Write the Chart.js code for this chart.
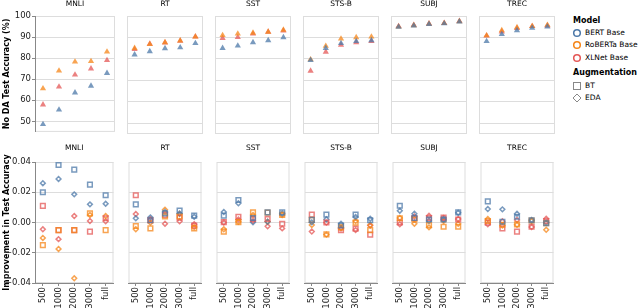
<html>
<head>
<title>DA results</title>
<style>
  body { margin: 0; background: #fff; }
  #wrap { position: relative; width: 640px; height: 308px; font-family: 'DejaVu Sans', sans-serif; }
  #wrap canvas { position: absolute; }
  .lg { position: absolute; font-size: 7.5px; color: #000; white-space: nowrap; line-height: 10px; }
  .lt { position: absolute; font-size: 8px; font-weight: bold; color: #000; white-space: nowrap; line-height: 10px; }
  .lg svg { position: absolute; left: -13px; top: 0; }
</style>
</head>
<body>
<div id="wrap">
  <div class="lt" style="left:573px;top:16px">Model</div>
  <div class="lg" style="left:585px;top:28px"><svg width="10" height="10"><circle cx="5" cy="5" r="3.3" fill="none" stroke="#4c78a8" stroke-width="1.5"/></svg>BERT Base</div>
  <div class="lg" style="left:585px;top:40px"><svg width="10" height="10"><circle cx="5" cy="5" r="3.3" fill="none" stroke="#f58518" stroke-width="1.5"/></svg>RoBERTa Base</div>
  <div class="lg" style="left:585px;top:52.5px"><svg width="10" height="10"><circle cx="5" cy="5" r="3.3" fill="none" stroke="#e45756" stroke-width="1.5"/></svg>XLNet Base</div>
  <div class="lt" style="left:573px;top:68px">Augmentation</div>
  <div class="lg" style="left:585px;top:80.5px"><svg width="10" height="10"><rect x="1.5" y="1.5" width="7" height="7" fill="none" stroke="#888" stroke-width="1"/></svg>BT</div>
  <div class="lg" style="left:585px;top:93px"><svg width="10" height="10"><path d="M5 1 L9 5 L5 9 L1 5 Z" fill="none" stroke="#888" stroke-width="1"/></svg>EDA</div>
</div>
</body>
</html>

<script src="https://cdn.jsdelivr.net/npm/chart.js"></script>
<script>
  var sizes = ['500', '1000', '2000', '3000', 'full'];
  var tasks = ['MNLI', 'RT', 'SST', 'STS-B', 'SUBJ', 'TREC'];

  // No DA test accuracy (%), one row per task
  var noDaBert = [
    [48.6, 55.5, 63.6, 66.8, 72.9],
    [82.0, 83.5, 84.9, 85.3, 87.3],
    [85.0, 86.1, 87.7, 88.6, 90.0],
    [79.4, 85.0, 87.3, 88.2, 88.6],
    [94.9, 95.5, 96.2, 96.5, 97.4],
    [88.2, 91.5, 93.3, 94.4, 95.0]
  ];
  var noDaRoberta = [
    [65.6, 74.0, 78.3, 78.5, 83.0],
    [85.0, 86.8, 87.7, 88.5, 90.3],
    [91.0, 91.7, 92.1, 92.6, 93.5],
    [79.7, 86.0, 89.4, 90.0, 90.3],
    [95.0, 95.6, 96.3, 96.6, 97.5],
    [90.9, 93.3, 94.7, 95.2, 95.8]
  ];
  var noDaXlnet = [
    [57.9, 66.4, 72.1, 75.0, 79.0],
    [84.5, 87.0, 87.6, 88.4, 90.4],
    [89.7, 90.1, 91.7, 92.6, 93.2],
    [74.4, 83.3, 86.5, 87.7, 88.2],
    [95.2, 95.8, 96.4, 96.7, 97.6],
    [90.8, 92.7, 94.3, 95.2, 95.5]
  ];

  // improvement in test accuracy, BT (back translation)
  var btBert = [
    [0.020, 0.038, 0.035, 0.025, 0.018],
    [0.012, 0.0015, 0.006, 0.0078, 0.0045],
    [0.0045, 0.0149, 0.003, 0.0067, 0.0067],
    [0.0017, 0.0052, -0.002, 0.0052, 0.0015],
    [0.0111, 0.003, 0.002, 0.002, 0.0067],
    [0.014, 0.0005, 0.0038, 0.0015, -0.0005]
  ];
  var btRoberta = [
    [-0.015, -0.005, -0.005, 0.006, -0.005],
    [-0.0023, -0.0039, 0.004, 0.004, -0.0039],
    [-0.006, 0.0003, 0.0067, 0.0065, 0.005],
    [0.0017, -0.0078, -0.0032, -0.0001, -0.005],
    [0.0028, 0.002, -0.0017, -0.0028, -0.0028],
    [0.001, -0.0015, -0.0012, 0.0013, -0.0005]
  ];
  var btXlnet = [
    [0.011, -0.005, -0.005, -0.006, 0.0028],
    [0.018, 0.0015, 0.005, 0.0032, -0.0021],
    [0.0003, 0.0038, 0.0023, 0.0023, -0.0008],
    [0.0052, 0.0, -0.005, -0.0041, -0.008],
    [0.0, 0.0028, 0.003, 0.0032, 0.002],
    [-0.0001, -0.0039, -0.006, -0.0028, 0.001]
  ];

  // improvement in test accuracy, EDA
  var edaBert = [
    [0.026, 0.0288, 0.0186, 0.012, 0.0124],
    [0.0028, 0.0034, 0.007, 0.006, 0.0038],
    [0.0069, 0.0127, 0.0001, 0.0005, 0.006],
    [0.0001, 0.0021, -0.0008, 0.0036, 0.0025],
    [0.0078, 0.0058, 0.001, 0.002, 0.0065],
    [0.0089, 0.0087, 0.0058, 0.0017, 0.0]
  ];
  var edaRoberta = [
    [-0.0102, -0.0175, -0.0369, 0.005, 0.0043],
    [-0.0045, -0.0001, 0.0085, 0.0056, -0.003],
    [-0.0045, 0.0005, 0.005, 0.0005, 0.005],
    [-0.0017, -0.008, -0.0035, 0.001, -0.0017],
    [0.003, -0.0008, -0.0032, 0.001, -0.0008],
    [0.0023, -0.002, -0.0015, 0.001, -0.0048]
  ];
  var edaXlnet = [
    [-0.0045, -0.011, 0.0043, 0.001, 0.0008],
    [0.0056, 0.0023, -0.0008, 0.0008, -0.0012],
    [0.0, 0.002, 0.001, -0.0025, -0.0039],
    [-0.006, -0.0001, -0.004, -0.005, -0.002],
    [-0.0012, 0.004, 0.0045, 0.003, 0.0023],
    [-0.0012, 0.0008, 0.0017, -0.003, 0.0025]
  ];

  var BLUE = 'rgba(76,120,168,0.75)';
  var ORANGE = 'rgba(245,133,24,0.75)';
  var RED = 'rgba(228,87,86,0.75)';
  var FONT = 'DejaVu Sans';

  // light frame round each facet
  var frame = {
    id: 'frame',
    beforeDraw: function(chart) {
      var a = chart.chartArea, c = chart.ctx;
      c.save();
      c.strokeStyle = '#ddd';
      c.lineWidth = 1;
      c.strokeRect(a.left + 0.5, a.top + 0.5, a.right - a.left - 1, a.bottom - a.top - 1);
      c.restore();
    }
  };

  function pts(data, color, style, filled) {
    return {
      data: data,
      showLine: false,
      pointStyle: style,
      pointRadius: style == 'triangle' ? 3.6 : (style == 'rect' ? 3.3 : 2.4),
      pointBackgroundColor: filled ? color : 'rgba(0,0,0,0)',
      pointBorderColor: color,
      pointBorderWidth: filled ? 0 : 1.5
    };
  }

  function panel(row, col) {
    var isTop = row == 0;
    var first = col == 0;
    var L = 35 + 88 * col;
    var axisW = first ? 35 : 0;
    var left = L - axisW;
    var top = isTop ? 0 : 140;
    var w = axisW + 84;
    var h = isTop ? 138 : 168;

    var cv = document.createElement('canvas');
    cv.width = w; cv.height = h;
    cv.style.left = left + 'px'; cv.style.top = top + 'px';
    cv.style.width = w + 'px'; cv.style.height = h + 'px';
    document.getElementById('wrap').appendChild(cv);

    var datasets;
    if (isTop) {
      datasets = [
        pts(noDaBert[col], BLUE, 'triangle', true),
        pts(noDaRoberta[col], ORANGE, 'triangle', true),
        pts(noDaXlnet[col], RED, 'triangle', true)
      ];
    } else {
      datasets = [
        pts(btBert[col], BLUE, 'rect', false),
        pts(btRoberta[col], ORANGE, 'rect', false),
        pts(btXlnet[col], RED, 'rect', false),
        pts(edaBert[col], BLUE, 'rectRot', false),
        pts(edaRoberta[col], ORANGE, 'rectRot', false),
        pts(edaXlnet[col], RED, 'rectRot', false)
      ];
    }

    new Chart(cv.getContext('2d'), {
      type: 'line',
      data: { labels: sizes, datasets: datasets },
      plugins: [frame],
      options: {
        responsive: false,
        animation: false,
        events: [],
        devicePixelRatio: 1,
        layout: { padding: { left: 0, right: 1, top: 0, bottom: isTop ? 1 : 0 } },
        plugins: {
          legend: { display: false },
          tooltip: { enabled: false },
          title: {
            display: true,
            text: tasks[col],
            fullSize: false,
            color: '#000',
            font: { family: FONT, size: 7.5, weight: 'normal' },
            padding: isTop ? { top: 0, bottom: 7 } : { top: 3.2, bottom: 9.8 }
          }
        },
        scales: {
          x: {
            type: 'category',
            offset: true,
            display: !isTop,
            grid: { offset: false, drawOnChartArea: false, drawTicks: true, tickLength: 3, tickColor: '#888' },
            border: { color: '#888' },
            ticks: {
              autoSkip: false, minRotation: 90, maxRotation: 90, padding: 1,
              color: '#222', font: { family: FONT, size: 8.5 }
            },
            afterFit: function(s) { if (!isTop) s.height = 25; }
          },
          y: {
            min: isTop ? 45 : -0.04,
            max: isTop ? 100 : 0.04,
            afterBuildTicks: function(s) {
              if (isTop) s.ticks = s.ticks.filter(function(t) { return t.value % 10 == 0; });
            },
            ticks: {
              display: first,
              stepSize: isTop ? 10 : 0.02,
              padding: 1,
              color: '#222',
              font: { family: FONT, size: 8.5 },
              callback: function(v) {
                if (isTop) return v;
                if (Math.abs(v) < 1e-9) return '0.00';
                return (v < 0 ? '\u2212' : '') + Math.abs(v).toFixed(2);
              }
            },
            grid: { color: '#ddd', drawTicks: first, tickLength: 3, tickColor: '#888' },
            border: { display: first, color: '#888' },
            title: {
              display: first,
              text: isTop ? 'No DA Test Accuracy (%)' : 'Improvement in Test Accuracy',
              color: '#000',
              font: { family: FONT, size: 8, weight: 'bold' },
              padding: { top: 2.6, bottom: 0 }
            },
            afterFit: function(s) { s.width = axisW; }
          }
        }
      }
    });
  }

  for (var r = 0; r < 2; r++) {
    for (var c = 0; c < tasks.length; c++) {
      panel(r, c);
    }
  }
</script>
